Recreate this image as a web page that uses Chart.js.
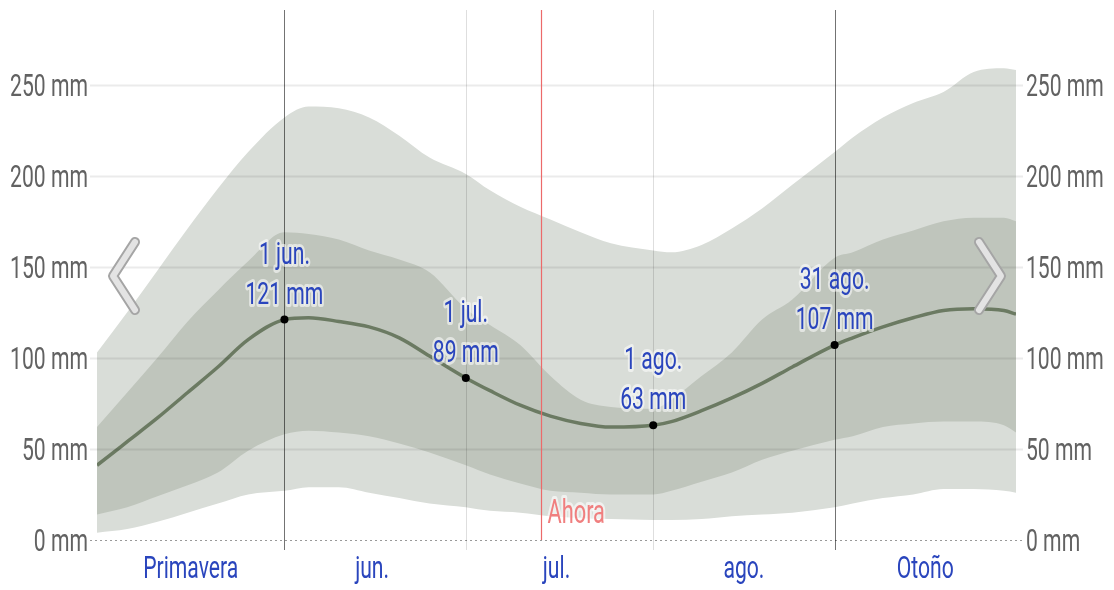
<!DOCTYPE html>
<html>
<head>
<meta charset="utf-8">
<script src="https://cdn.jsdelivr.net/npm/chart.js@4.4.1/dist/chart.umd.min.js"></script>
<style>
  html, body { margin: 0; padding: 0; background: #fff; overflow: hidden; }
  #wrap { width: 1114px; height: 590px; position: relative; }
</style>
</head>
<body>
<div id="wrap"><canvas id="chart"></canvas></div>
<script>
// days counted from 1 May
const days = [0, 5, 10, 15, 20, 25, 31, 35, 40, 45, 50, 55, 61, 65, 70, 75, 80, 85, 92, 95, 100, 105, 110, 115, 122, 125, 130, 135, 140, 145, 150, 152];
const p50 = [41, 54, 67, 81, 95, 110, 121, 122, 120, 117, 111, 101, 89, 82, 74, 68, 64, 62, 63, 65, 71, 78, 86, 95, 107, 111, 117, 122, 126, 127, 126, 124];
const p75 = [62, 81, 100, 120, 137, 153, 169, 168, 165, 159, 154, 147, 127, 118, 107, 90, 77, 73, 72, 77, 90, 103, 121, 132, 155, 158, 165, 170, 175, 177, 177, 175];
const p25 = [14, 18, 24, 30, 37, 49, 58, 60, 59, 57, 53, 48, 41, 36, 31, 27, 26, 25, 25, 27, 32, 37, 44, 49, 55, 57, 62, 64, 65, 65, 63, 59];
const p90 = [103, 125, 148, 171, 193, 213, 232, 238, 237, 232, 222, 210, 201, 192, 183, 176, 169, 163, 159, 158, 162, 171, 182, 195, 213, 221, 232, 240, 246, 257, 259, 258];
const p10 = [4, 6, 10, 15, 20, 25, 27, 29, 29, 26, 23, 20, 18, 16, 15, 13, 12, 11.5, 11, 11, 11.5, 13, 14, 15, 18, 20, 23, 25, 28, 28, 27, 26];

const yTicks = [0, 50, 100, 150, 200, 250];
const monthLabels = ['Primavera', 'jun.', 'jul.', 'ago.', 'Otoño'];
const monthMid = [15.5, 45.5, 76, 107, 137];
const monthEdges = [31, 61, 92, 122];
const seasonEdges = [31, 122];

const hlDays = [31, 61, 92, 122];
const hlNames = ['1 jun.', '1 jul.', '1 ago.', '31 ago.'];
const hlValues = [121, 89, 63, 107];
const nowDay = 73.4;

const FONT = "Roboto, 'Noto Sans', sans-serif";
const SX = 0.66; // narrow look of the original lettering
const BLUE = '#2a45bd';

const pts = arr => days.map((d, i) => ({ x: d, y: arr[i] }));

function sText(ctx, txt, x, y, align, size, color, halo) {
  ctx.save();
  ctx.translate(x, y);
  ctx.scale(SX, 1);
  ctx.font = size + 'px ' + FONT;
  ctx.textAlign = align;
  ctx.textBaseline = 'alphabetic';
  if (halo) {
    ctx.lineJoin = 'round';
    ctx.lineWidth = 6;
    ctx.strokeStyle = halo;
    ctx.strokeText(txt, 0, 0);
  }
  ctx.fillStyle = color;
  ctx.fillText(txt, 0, 0);
  ctx.restore();
}

const overlay = {
  id: 'overlay',
  afterDatasetsDraw(chart) {
    const { ctx, chartArea: a, scales: { x, y } } = chart;
    ctx.save();
    // horizontal grid
    yTicks.forEach(t => {
      const py = Math.round(y.getPixelForValue(t)) + 0.5;
      if (t === 0) {
        ctx.strokeStyle = '#999';
        ctx.setLineDash([2, 3]);
        ctx.lineWidth = 1;
      } else {
        ctx.strokeStyle = 'rgba(0,0,0,0.08)';
        ctx.setLineDash([]);
        ctx.lineWidth = 2;
      }
      ctx.beginPath();
      ctx.moveTo(a.left - 7, py);
      ctx.lineTo(a.right + 7, py);
      ctx.stroke();
      sText(ctx, t + ' mm', a.left - 9, y.getPixelForValue(t) + 11, 'right', 32, '#626262');
      sText(ctx, t + ' mm', a.right + 10, y.getPixelForValue(t) + 11, 'left', 32, '#626262');
    });
    ctx.setLineDash([]);
    // month edges
    monthEdges.forEach(d => {
      const px = Math.round(x.getPixelForValue(d)) + 0.5;
      ctx.strokeStyle = seasonEdges.includes(d) ? 'rgba(0,0,0,0.55)' : 'rgba(0,0,0,0.13)';
      ctx.lineWidth = 1;
      ctx.beginPath();
      ctx.moveTo(px, a.top);
      ctx.lineTo(px, a.bottom + 10);
      ctx.stroke();
    });
    monthMid.forEach((d, i) => {
      sText(ctx, monthLabels[i], x.getPixelForValue(d), a.bottom + 38, 'center', 32, BLUE);
    });
    // now line
    const nx = Math.round(x.getPixelForValue(nowDay)) + 0.5;
    ctx.strokeStyle = '#ec6a6a';
    ctx.lineWidth = 1.2;
    ctx.beginPath();
    ctx.moveTo(nx, a.top);
    ctx.lineTo(nx, a.bottom);
    ctx.stroke();
    sText(ctx, 'Ahora', nx + 6, a.bottom - 17, 'left', 33, '#f07f7f', 'rgba(255,255,255,0.6)');
    // highlight labels
    hlDays.forEach((d, i) => {
      const px = x.getPixelForValue(d);
      const py = y.getPixelForValue(hlValues[i]);
      sText(ctx, hlNames[i], px, py - 56, 'center', 32, BLUE, 'rgba(255,255,255,0.55)');
      sText(ctx, hlValues[i] + ' mm', px, py - 16, 'center', 32, BLUE, 'rgba(255,255,255,0.55)');
    });
    // chevrons
    const chev = (p) => {
      ctx.lineJoin = 'round';
      ctx.lineCap = 'round';
      ctx.beginPath();
      ctx.moveTo(p[0][0], p[0][1]);
      ctx.lineTo(p[1][0], p[1][1]);
      ctx.lineTo(p[2][0], p[2][1]);
      ctx.strokeStyle = '#a5a5a5';
      ctx.lineWidth = 10;
      ctx.stroke();
      ctx.strokeStyle = '#e3e3e3';
      ctx.lineWidth = 6;
      ctx.stroke();
    };
    chev([[135, 242], [113, 276], [135, 310]]);
    chev([[979, 242], [1001, 276], [979, 310]]);
    ctx.restore();
  }
};

const hidden = { display: false, drawTicks: false };

new Chart(document.getElementById('chart'), {
  type: 'line',
  data: {
    datasets: [
      {
        data: pts(p50), order: 0, borderColor: '#6b7a62', borderWidth: 3.5,
        cubicInterpolationMode: 'monotone', fill: false,
        pointRadius: ctx => hlDays.includes(days[ctx.dataIndex]) ? 4 : 0,
        pointBackgroundColor: '#000', pointBorderWidth: 0
      },
      { data: pts(p75), order: 1, fill: '+1', backgroundColor: '#bfc5bc', borderWidth: 0, pointRadius: 0, cubicInterpolationMode: 'monotone' },
      { data: pts(p25), order: 1, fill: false, borderWidth: 0, pointRadius: 0, cubicInterpolationMode: 'monotone' },
      { data: pts(p90), order: 2, fill: '+1', backgroundColor: '#d9ddd8', borderWidth: 0, pointRadius: 0, cubicInterpolationMode: 'monotone' },
      { data: pts(p10), order: 2, fill: false, borderWidth: 0, pointRadius: 0, cubicInterpolationMode: 'monotone' }
    ]
  },
  options: {
    responsive: true,
    maintainAspectRatio: false,
    animation: false,
    layout: { padding: { top: 10 } },
    plugins: { legend: { display: false }, tooltip: { enabled: false } },
    scales: {
      x: {
        type: 'linear', min: 0, max: 152,
        grid: hidden, border: { display: false },
        ticks: { display: false },
        afterFit: s => { s.height = 50; }
      },
      y: {
        position: 'left', min: 0, max: 291,
        grid: hidden, border: { display: false },
        ticks: { display: false },
        afterFit: s => { s.width = 97; }
      },
      y2: {
        position: 'right', min: 0, max: 291,
        grid: hidden, border: { display: false },
        ticks: { display: false },
        afterFit: s => { s.width = 98; }
      }
    }
  },
  plugins: [overlay]
});
</script>
</body>
</html>
